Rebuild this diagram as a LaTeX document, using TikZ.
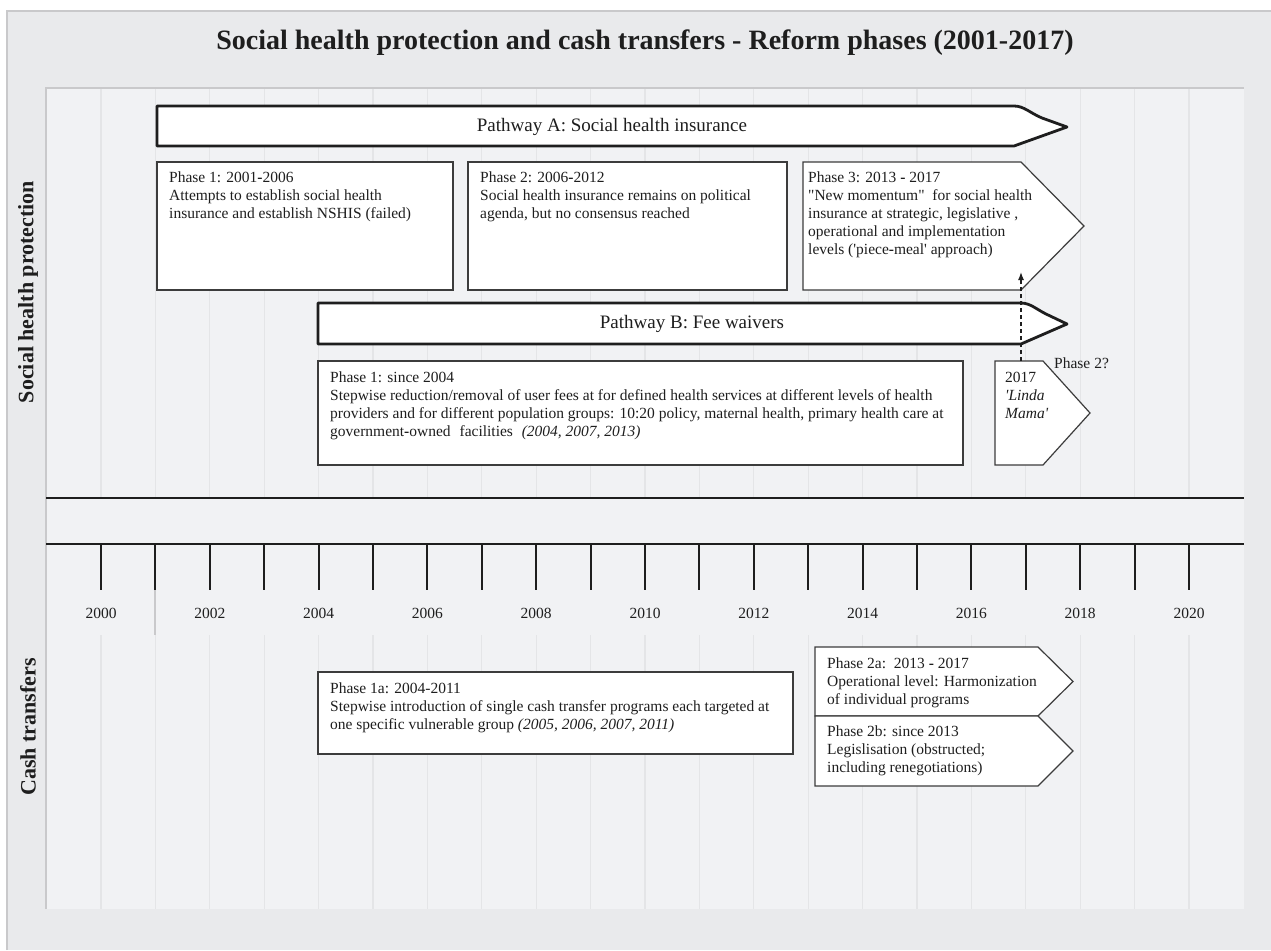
\documentclass[tikz,border=0pt]{standalone}
\usepackage{fontspec}
\setmainfont{Liberation Serif}[Ligatures=TeXOff]
\usetikzlibrary{arrows.meta}

\definecolor{outerbg}{HTML}{E9EAEC}
\definecolor{innerbg}{HTML}{F1F2F4}
\definecolor{framegray}{HTML}{C9C9CB}
\definecolor{gridgray}{HTML}{E4E5E7}
\definecolor{ink}{HTML}{1E1E1E}
\definecolor{boxline}{HTML}{3C3C3C}

\newcommand{\boxfont}{\fontsize{15.5}{18}\selectfont}
% stacked lines, baseline on the first line
\newcommand{\lines}[1]{\begin{tabular}[t]{@{}l@{}}#1\end{tabular}}
\newcommand{\bh}{\textbf{-}}

\tikzset{
  every node/.style={inner sep=0pt, text=ink},
  lbl/.style={anchor=base west, font=\boxfont},
  pathway/.style={draw=ink, line width=2.8pt, fill=white, line join=round},
  phasebox/.style={draw=boxline, line width=1.2pt, fill=white},
  yeartick/.style={draw=ink, line width=2pt},
  axisline/.style={draw=ink, line width=2pt},
  gridline/.style={draw=gridgray, line width=1.2pt},
  yearlabel/.style={anchor=base, font=\boxfont},
  sidelabel/.style={rotate=90, font=\fontsize{22}{26}\selectfont\bfseries},
  pathlabel/.style={font=\fontsize{19}{22}\selectfont},
  link/.style={draw=ink, line width=1.3pt, dash pattern=on 4pt off 3pt,
               -{Latex[length=8pt,width=6pt]}},
}

\begin{document}
\begin{tikzpicture}[x=1pt,y=-1pt]
\useasboundingbox (0,0) rectangle (1271,950);

% frame and plot area
\fill[outerbg] (7,11) rectangle (1271,950);
\draw[framegray, line width=2pt] (7,950) -- (7,11) -- (1271,11);
\fill[innerbg] (46,88) rectangle (1244,909);
\draw[framegray, line width=2pt] (46,909) -- (46,88) -- (1244,88);

% year grid
\foreach \k in {0,...,20} {
  \pgfmathsetmacro\gx{101+54.4*\k}
  \draw[gridline] (\gx,89) -- (\gx,497);
  \draw[gridline] (\gx,635) -- (\gx,909);
}
\draw[framegray, line width=1.5pt] (155,590) -- (155,635);

% time axis
\draw[axisline] (46,498) -- (1244,498);
\draw[axisline] (46,544) -- (1244,544);
\foreach \k in {0,...,20} {
  \pgfmathsetmacro\gx{101+54.4*\k}
  \draw[yeartick] (\gx,544) -- (\gx,590);
}
\foreach \k in {0,2,...,20} {
  \pgfmathsetmacro\gx{101+54.4*\k}
  \node[yearlabel] (yr\k) at (\gx,618) {\the\numexpr2000+\k\relax};
}

% title and row labels
\node[font=\fontsize{28}{32}\selectfont\bfseries, anchor=base] (title) at (645,50)
  {Social health protection and cash transfers - Reform phases (2001-2017)};
\node[sidelabel] (rowshp) at (28,292) {Social health protection};
\node[sidelabel] (rowct) at (28,727) {Cash transfers};

% pathway A
\draw[pathway] (157,106) -- (1014,106) .. controls (1024,106) and (1030,113) .. (1042,118)
  -- (1067,127) -- (1014,146) -- (157,146) -- cycle;
\node[pathlabel] (pwA) at (612,127) {Pathway A: Social health insurance};

\draw[phasebox] (157,162) rectangle (453,290);
\node[lbl] (p1A) at (169,182) {\lines{Phase 1: 2001\bh2006\\
  Attempts to establish social health\\
  insurance and establish NSHIS (failed)}};

\draw[phasebox] (468,162) rectangle (787,290);
\node[lbl] (p2A) at (480,182) {\lines{Phase 2: 2006\bh2012\\
  Social health insurance remains on political\\
  agenda, but no consensus reached}};

\draw[phasebox] (803,162) -- (1021,162) -- (1084,226) -- (1021,290) -- (803,290) -- cycle;
\node[lbl] (p3A) at (808,182) {\lines{Phase 3: 2013 \bh{} 2017\\
  "New momentum"\ \ for social health\\
  insurance at strategic, legislative ,\\
  operational and implementation\\
  levels ('piece\bh meal' approach)}};

% pathway B
\draw[pathway] (318,303) -- (1021,303) .. controls (1030,303) and (1036,309) .. (1046,314)
  -- (1067,324) -- (1021,344) -- (318,344) -- cycle;
\node[pathlabel] (pwB) at (692,324) {Pathway B: Fee waivers};

\draw[phasebox] (318,361) rectangle (963,465);
\node[lbl] (p1B) at (330,382) {\lines{Phase 1: since 2004\\
  Stepwise reduction/removal of user fees at for defined health services at different levels of health\\
  providers and for different population groups: 10:20 policy, maternal health, primary health care at\\
  government\bh owned\hspace{5pt} facilities\hspace{5pt} \textit{(2004, 2007, 2013)}}};

\draw[phasebox] (995,361) -- (1043,361) -- (1090,413) -- (1043,465) -- (995,465) -- cycle;
\node[lbl] (lm) at (1005,382) {\lines{2017\\ \textit{'Linda}\\ \textit{Mama'}}};
\node[lbl] (ph2q) at (1054,368) {Phase 2?};

\coordinate (lmtop) at (1021,361);
\coordinate (p3in) at (1021,272);
\draw[link] (lmtop) -- (p3in);

% cash transfers
\draw[phasebox] (318,672) rectangle (793,754);
\node[lbl] (p1a) at (330,693) {\lines{Phase 1a: 2004-2011\\
  Stepwise introduction of single cash transfer programs each targeted at\\
  one specific vulnerable group \textit{(2005, 2006, 2007, 2011)}}};

\draw[phasebox] (815,647) -- (1038,647) -- (1073,681.5) -- (1038,716) -- (815,716) -- cycle;
\node[lbl] (p2a) at (827,668) {\lines{Phase 2a:\ \ 2013 \bh{} 2017\\
  Operational level: Harmonization\\
  of individual programs}};

\draw[phasebox] (815,716) -- (1038,716) -- (1073,751) -- (1038,786) -- (815,786) -- cycle;
\node[lbl] (p2b) at (827,736) {\lines{Phase 2b: since 2013\\
  Legislisation (obstructed;\\
  including renegotiations)}};

\end{tikzpicture}
\end{document}
